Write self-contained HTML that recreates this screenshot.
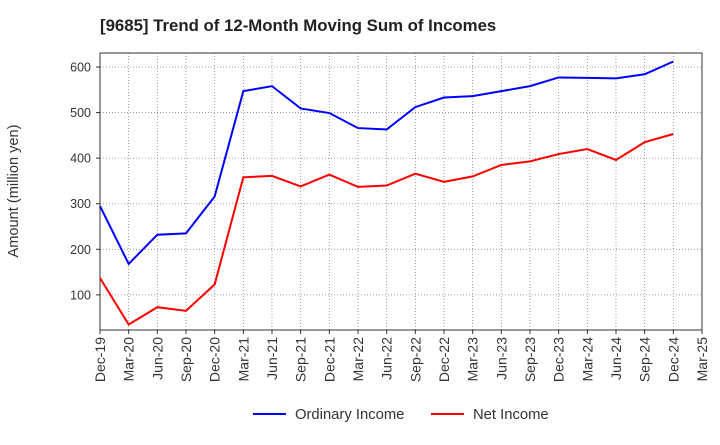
<!DOCTYPE html>
<html><head><meta charset="utf-8"><style>
body{margin:0;background:#fff;font-family:"Liberation Sans",sans-serif;}
svg text{font-family:"Liberation Sans",sans-serif;}
</style></head><body>
<svg id="chart" width="720" height="440">
<text x="100" y="31" font-size="16.8" font-weight="bold" fill="#222">[9685]  Trend of 12-Month Moving Sum of Incomes</text>
<text transform="translate(18,191) rotate(-90)" text-anchor="middle" font-size="14.6" fill="#333">Amount (million yen)</text>
<g id="grid"></g><g id="axes"></g><g id="series"></g>
<g>
<line x1="253" y1="414" x2="286" y2="414" stroke="#0000ff" stroke-width="2"/>
<text x="295" y="419" font-size="14.8" fill="#333">Ordinary Income</text>
<line x1="431" y1="414" x2="464" y2="414" stroke="#ff0000" stroke-width="2"/>
<text x="473" y="419" font-size="14.8" fill="#333">Net Income</text>
</g>
</svg>
<script>
const categories=["Dec-19","Mar-20","Jun-20","Sep-20","Dec-20","Mar-21","Jun-21","Sep-21","Dec-21","Mar-22","Jun-22","Sep-22","Dec-22","Mar-23","Jun-23","Sep-23","Dec-23","Mar-24","Jun-24","Sep-24","Dec-24","Mar-25"];
const ordinaryIncome=[295,168,232,235,316,547,558,509,499,466,463,512,533,536,547,558,577,576,575,584,612];
const netIncome=[137,35,73,65,123,358,361,338,364,337,340,366,348,360,385,393,409,420,396,435,453];
const yTicks=[100,200,300,400,500,600];
const NS="http://www.w3.org/2000/svg";
const L=100,R=702,T=53,B=330,yMin=23,yMax=630.7;
const x=i=>L+i*(R-L)/(categories.length-1);
const y=v=>B-(v-yMin)/(yMax-yMin)*(B-T);
function mk(tag,attrs,parent){const e=document.createElementNS(NS,tag);for(const k in attrs)e.setAttribute(k,attrs[k]);parent.appendChild(e);return e;}
const grid=document.getElementById('grid'),axes=document.getElementById('axes'),ser=document.getElementById('series');
categories.forEach((c,i)=>{
 const g=mk('line',{x1:x(i),x2:x(i),y1:T,y2:B,stroke:'#888','stroke-dasharray':'1,2','stroke-width':0.8},grid);
 
 
 mk('line',{x1:x(i),x2:x(i),y1:B,y2:B+4,stroke:'#333'},axes);
 const t=mk('text',{transform:`translate(${x(i)+5},${B+7}) rotate(-90)`,'text-anchor':'end','font-size':14,fill:'#333'},axes);
 t.textContent=c;
 
 
});
yTicks.forEach(v=>{
 const g=mk('line',{x1:L,x2:R,y1:y(v),y2:y(v),stroke:'#888','stroke-dasharray':'1,2','stroke-width':0.8},grid);
 
 
 mk('line',{x1:L-4,x2:L,y1:y(v),y2:y(v),stroke:'#333'},axes);
 const t=mk('text',{x:L-9,y:y(v)+4.5,'text-anchor':'end','font-size':12.5,fill:'#333'},axes);
 t.textContent=v;
 
 
});
const frame=mk('rect',{x:L,y:T,width:R-L,height:B-T,fill:'none',stroke:'#333','stroke-width':1},axes);


function line(data,color,name){
 const p=mk('polyline',{points:data.map((v,i)=>x(i)+','+y(v)).join(' '),fill:'none',stroke:color,'stroke-width':2},ser);
 
 
}
line(ordinaryIncome,'#0000ff','ordinary-income-line');
line(netIncome,'#ff0000','net-income-line');
</script>
</body></html>
